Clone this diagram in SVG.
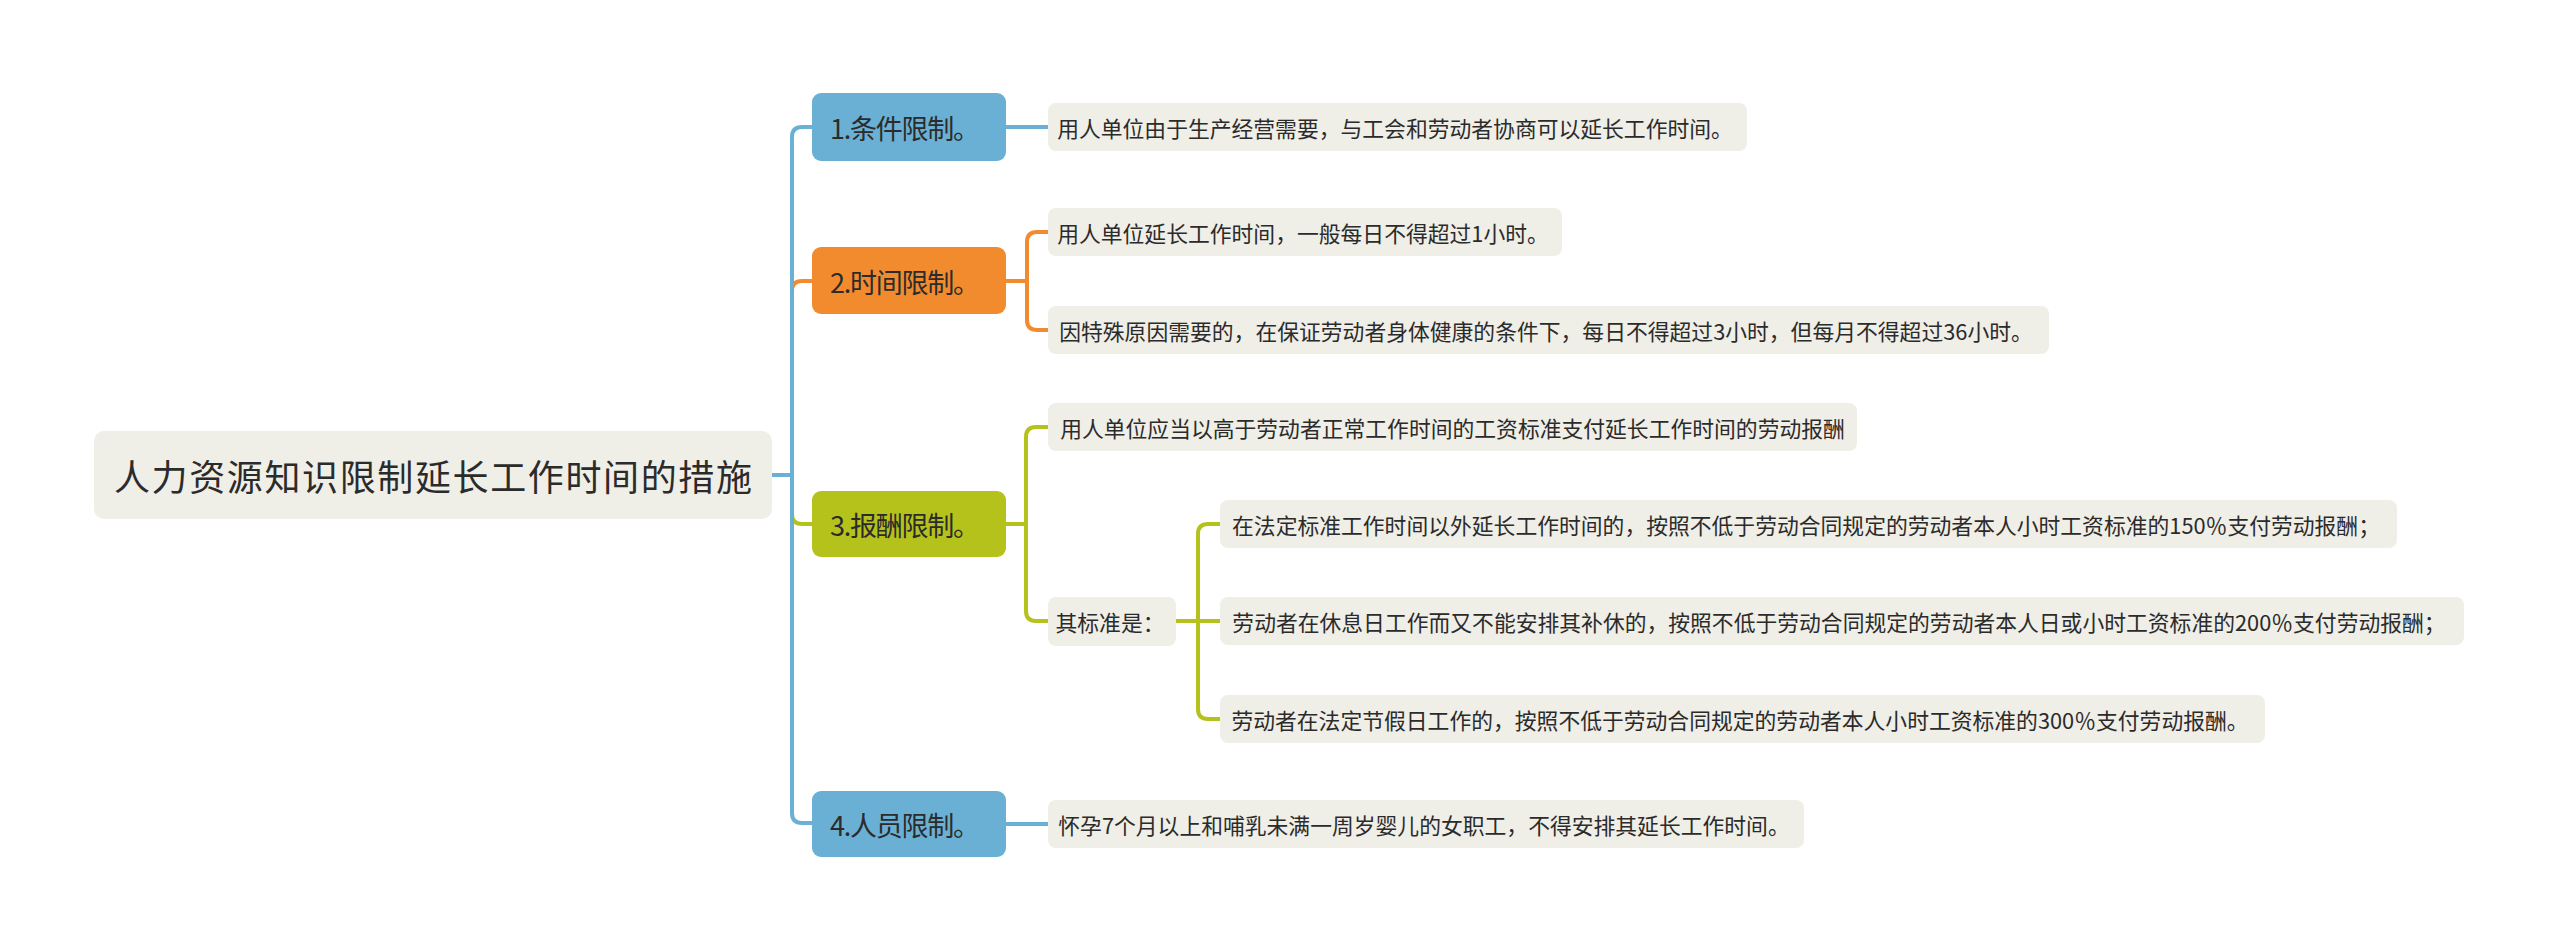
<svg xmlns="http://www.w3.org/2000/svg" width="2560" height="951" viewBox="0 0 2560 951">
<style>
text{font-family:"Noto Sans CJK SC","Noto Sans",sans-serif;fill:#2b2b2b;dominant-baseline:central;text-anchor:middle}
.root rect{fill:#efeee7}
.root text{font-size:36px}
.br text{font-size:27px}
.leaf rect{fill:#efeee7}
.leaf text{font-size:21.8px}
.blue{fill:#6ab0d4}
.orange{fill:#f28b2e}
.lime{fill:#b6c21c}
.c{fill:none;stroke-width:4;stroke-linecap:round;stroke-linejoin:round}
.cb{stroke:#6ab0d4}
.co{stroke:#f28b2e}
.cl{stroke:#b6c21c}
</style>
<rect width="2560" height="951" fill="#ffffff"/>
<g id="connectors">
<path class="c cl" d="M772,475 H792 V514 Q792,524 802,524 H813"/>
<path class="c co" d="M772,475 H792 V291 Q792,281 802,281 H813"/>
<path class="c cb" d="M772,475 H792 V137 Q792,127 802,127 H813"/>
<path class="c cb" d="M772,475 H792 V813 Q792,823 802,823 H813"/>
<path class="c cb" d="M1006,127 H1048"/>
<path class="c co" d="M1006,281 H1027 M1027,281 V242 Q1027,232 1037,232 H1048 M1027,281 V320 Q1027,330 1037,330 H1048"/>
<path class="c cl" d="M1005,524 H1026 M1026,524 V437 Q1026,427 1036,427 H1048 M1026,524 V611 Q1026,621 1036,621 H1048"/>
<path class="c cl" d="M1176,621 H1220 M1198,621 V534 Q1198,524 1208,524 H1220 M1198,621 V709 Q1198,719 1208,719 H1220"/>
<path class="c cb" d="M1006,824 H1048"/>
</g>
<g id="root" class="root">
<rect x="94" y="431" width="678" height="88" rx="10"/>
<text x="433" y="475" textLength="638">人力资源知识限制延长工作时间的措施</text>
</g>
<g id="b1" class="br">
<rect class="blue" x="812" y="93" width="194" height="68" rx="9"/>
<text x="905" y="127" textLength="150">1.条件限制。</text>
</g>
<g id="b2" class="br">
<rect class="orange" x="812" y="247" width="194" height="67" rx="9"/>
<text x="905" y="281" textLength="150">2.时间限制。</text>
</g>
<g id="b3" class="br">
<rect class="lime" x="812" y="491" width="194" height="66" rx="9"/>
<text x="905" y="524" textLength="150">3.报酬限制。</text>
</g>
<g id="b4" class="br">
<rect class="blue" x="812" y="791" width="194" height="66" rx="9"/>
<text x="905" y="824" textLength="150">4.人员限制。</text>
</g>
<g id="l1" class="leaf">
<rect x="1048" y="103" width="699" height="48" rx="8"/>
<text x="1395" y="127">用人单位由于生产经营需要，与工会和劳动者协商可以延长工作时间。</text>
</g>
<g id="l2a" class="leaf">
<rect x="1048" y="208" width="514" height="48" rx="8"/>
<text x="1303" y="232">用人单位延长工作时间，一般每日不得超过1小时。</text>
</g>
<g id="l2b" class="leaf">
<rect x="1048" y="306" width="1001" height="48" rx="8"/>
<text x="1546" y="330">因特殊原因需要的，在保证劳动者身体健康的条件下，每日不得超过3小时，但每月不得超过36小时。</text>
</g>
<g id="l3a" class="leaf">
<rect x="1048" y="403" width="809" height="48" rx="8"/>
<text x="1452.5" y="427">用人单位应当以高于劳动者正常工作时间的工资标准支付延长工作时间的劳动报酬</text>
</g>
<g id="l3q" class="leaf">
<rect x="1048" y="597" width="128" height="49" rx="8"/>
<text x="1110" y="621.5">其标准是：</text>
</g>
<g id="l3b1" class="leaf">
<rect x="1220" y="500" width="1177" height="48" rx="8"/>
<text x="1806" y="524">在法定标准工作时间以外延长工作时间的，按照不低于劳动合同规定的劳动者本人小时工资标准的150％支付劳动报酬；</text>
</g>
<g id="l3b2" class="leaf">
<rect x="1220" y="597" width="1244" height="48" rx="8"/>
<text x="1839" y="621">劳动者在休息日工作而又不能安排其补休的，按照不低于劳动合同规定的劳动者本人日或小时工资标准的200％支付劳动报酬；</text>
</g>
<g id="l3b3" class="leaf">
<rect x="1220" y="695" width="1045" height="48" rx="8"/>
<text x="1740" y="719">劳动者在法定节假日工作的，按照不低于劳动合同规定的劳动者本人小时工资标准的300％支付劳动报酬。</text>
</g>
<g id="l4" class="leaf">
<rect x="1048" y="800" width="756" height="48" rx="8"/>
<text x="1424" y="824">怀孕7个月以上和哺乳未满一周岁婴儿的女职工，不得安排其延长工作时间。</text>
</g>
</svg>
